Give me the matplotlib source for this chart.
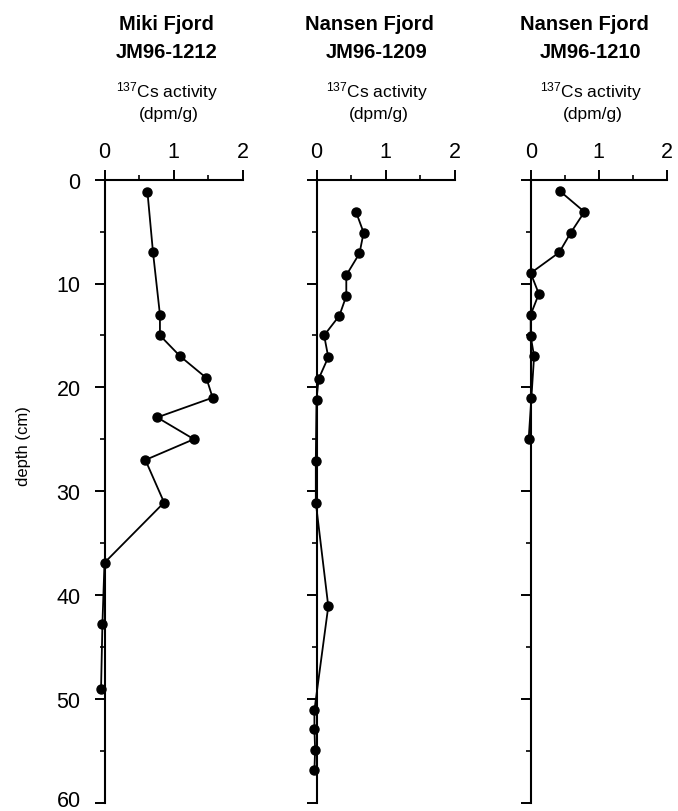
import matplotlib
matplotlib.use("Agg")
import matplotlib.pyplot as plt
import matplotlib.transforms as mtransforms
from matplotlib.ticker import MultipleLocator

plt.rcParams['font.family'] = ['Liberation Sans', 'DejaVu Sans']
plt.rcParams['mathtext.fontset'] = 'custom'
plt.rcParams['mathtext.rm'] = 'Liberation Sans'
plt.rcParams['mathtext.it'] = 'Liberation Sans:italic'
plt.rcParams['mathtext.bf'] = 'Liberation Sans:bold'

# ---- data ----
titles1 = ["Miki Fjord", "Nansen Fjord", "Nansen Fjord"]
titles2 = ["JM96-1212", "JM96-1209", "JM96-1210"]

cs_1212 = [0.62, 0.70, 0.80, 0.80, 1.09, 1.47, 1.56, 0.76, 1.29, 0.59, 0.86, 0.00, -0.03, -0.05]
depth_1212 = [1.2, 7.0, 13.0, 15.0, 17.0, 19.1, 21.0, 22.9, 25.0, 27.0, 31.1, 36.9, 42.8, 49.1]

cs_1209 = [0.57, 0.68, 0.62, 0.43, 0.43, 0.33, 0.11, 0.17, 0.03, 0.00, -0.01, -0.01, 0.17, -0.03, -0.03, -0.02, -0.03]
depth_1209 = [3.1, 5.1, 7.1, 9.2, 11.2, 13.1, 15.0, 17.1, 19.2, 21.2, 27.1, 31.1, 41.1, 51.1, 52.9, 54.9, 56.9]

cs_1210 = [0.43, 0.79, 0.59, 0.42, 0.00, 0.12, 0.00, 0.00, 0.05, 0.01, -0.03]
depth_1210 = [1.1, 3.1, 5.1, 7.0, 9.0, 11.0, 13.0, 15.1, 17.0, 21.0, 25.0]

depth_ticks = [0, 10, 20, 30, 40, 50, 60]
act_ticks = [0, 1, 2]

series = [(cs_1212, depth_1212), (cs_1209, depth_1209), (cs_1210, depth_1210)]

W, H = 678, 812
fig = plt.figure(figsize=(W / 100, H / 100), dpi=100)

# panel geometry in pixels (x of zero activity, px per unit)
x0s = [104.5, 316.5, 530.7]
scales = [69.3, 69.3, 68.0]
ytop, ybot = 180.7, 803.5
# header text centres (pixels)
c_title = [166, 369, 584]
c_sub = [167, 377, 591]

for i, ((xs, ds), x0, sc) in enumerate(zip(series, x0s, scales)):
    ax = fig.add_axes([x0 / W, 1 - ybot / H, 2 * sc / W, (ybot - ytop) / H])
    ax.set_xlim(0, 2)
    ax.set_ylim(60, 0)
    ax.plot(xs, ds, color='black', lw=1.3, marker='o', ms=6.5, clip_on=False, zorder=3)
    for s in ['right', 'bottom']:
        ax.spines[s].set_visible(False)
    for s in ['left', 'top']:
        ax.spines[s].set_linewidth(1.5)
    ax.xaxis.tick_top()
    ax.set_xticks(act_ticks)
    ax.set_yticks(depth_ticks)
    ax.xaxis.set_minor_locator(MultipleLocator(0.5))
    ax.yaxis.set_minor_locator(MultipleLocator(5))
    ax.tick_params(which='major', direction='out', length=7.2, width=1.4, labelsize=15.5)
    ax.tick_params(which='minor', direction='out', length=3.6, width=1.2)
    ax.tick_params(axis='x', which='major', pad=5.5)
    ax.tick_params(axis='y', which='major', pad=10)
    if i > 0:
        ax.tick_params(axis='y', labelleft=False)
    else:
        lab = ax.yaxis.get_major_ticks()[-1].label1
        lab.set_transform(lab.get_transform() +
                          mtransforms.ScaledTranslation(0, 4 / 100, fig.dpi_scale_trans))
    ax.patch.set_visible(False)

    fig.text(c_title[i] / W, 1 - 30 / H, titles1[i], ha='center', va='baseline',
             fontsize=14.5, fontweight='bold')
    fig.text(c_sub[i] / W, 1 - 58 / H, titles2[i], ha='center', va='baseline',
             fontsize=14.5, fontweight='bold')
    fig.text(c_sub[i] / W, 1 - 97 / H, r"$^{137}$Cs activity", ha='center', va='baseline',
             fontsize=12.5)
    fig.text((c_sub[i] + 2) / W, 1 - 119 / H, "(dpm/g)", ha='center', va='baseline',
             fontsize=12.5)

fig.text(24 / W, 1 - 446 / H, "depth (cm)", rotation=90, ha='center', va='center', fontsize=12)

fig.savefig("out.png", dpi=100)
